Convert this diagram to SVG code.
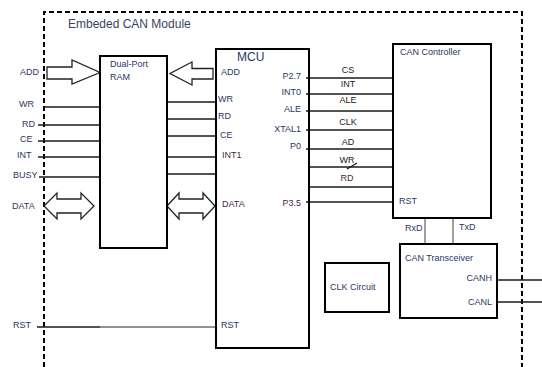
<svg xmlns="http://www.w3.org/2000/svg" width="542" height="367" viewBox="0 0 542 367">
<style>
text{font-family:"Liberation Sans",Arial,sans-serif;font-size:9px;fill:#2b3566}
.m{fill:#4e2444}
.k{fill:#1a1a1a}
.big{font-size:12px}
.box{fill:#fff;stroke:#000;stroke-width:2}
.ln{stroke:#1a1a1a;stroke-width:1.3;fill:none}
.gl{stroke:#6e6e6e;stroke-width:1.3;fill:none}
.arr{fill:#fff;stroke:#222;stroke-width:1.3;stroke-linejoin:miter}
.dash{fill:none;stroke:#000;stroke-width:2;stroke-dasharray:5,3}
.e{text-anchor:end}
.c{text-anchor:middle}
</style>
<rect width="542" height="367" fill="#fff"/>

<g id="module">
<path class="dash" d="M44,367 V12 H522 V367"/>
<text x="68" y="28" class="big" style="fill:#3a3f5c">Embeded CAN Module</text>
</g>

<g id="connectors">
<!-- left external signals into RAM -->
<line class="ln" x1="44" y1="107" x2="100" y2="107"/>
<line class="ln" x1="38" y1="125" x2="100" y2="125"/>
<line class="ln" x1="38" y1="141" x2="100" y2="141"/>
<line class="ln" x1="38" y1="157" x2="100" y2="157"/>
<line class="ln" x1="39" y1="177" x2="100" y2="177"/>
<!-- RAM to MCU -->
<line class="ln" x1="167" y1="102" x2="216" y2="102"/>
<line class="ln" x1="167" y1="119" x2="216" y2="119"/>
<line class="ln" x1="167" y1="136" x2="216" y2="136"/>
<line class="ln" x1="167" y1="157" x2="216" y2="157"/>
<line class="ln" x1="167" y1="174" x2="216" y2="174"/>
<!-- RST -->
<line class="ln" x1="37" y1="327" x2="100" y2="327"/>
<line class="gl" x1="100" y1="327" x2="216" y2="327"/>
<!-- MCU to CAN controller -->
<line class="ln" x1="306" y1="78" x2="393" y2="78"/>
<line class="ln" x1="306" y1="94" x2="393" y2="94"/>
<line class="ln" x1="306" y1="111" x2="393" y2="111"/>
<line class="ln" x1="306" y1="130" x2="393" y2="130"/>
<line class="ln" x1="306" y1="149" x2="393" y2="149"/>
<line class="ln" x1="309" y1="167" x2="393" y2="167"/>
<line class="ln" x1="309" y1="187" x2="393" y2="187"/>
<line class="ln" x1="306" y1="202" x2="393" y2="202"/>
<line class="ln" x1="347" y1="169" x2="357" y2="163"/>
<!-- controller to transceiver -->
<line class="gl" x1="425" y1="218" x2="425" y2="244"/>
<line class="gl" x1="453" y1="218" x2="453" y2="244"/>
<!-- bus -->
<line class="ln" x1="497" y1="280" x2="542" y2="280"/>
<line class="ln" x1="497" y1="302" x2="542" y2="302"/>
<!-- hollow arrows -->
<polygon class="arr" points="47,67 72,67 72,60 100,72.5 72,84 72,79 47,79"/>
<polygon class="arr" points="213,68.5 192,68.5 192,62 170,73.5 192,85 192,79 213,79"/>
<polygon class="arr" points="44,206 57,193 57,199 81,199 81,193 94,206 81,219 81,213 57,213 57,219"/>
<polygon class="arr" points="167,206 179,193 179,199 203,199 203,193 215,206 203,219 203,213 179,213 179,219"/>
<!-- signal labels -->
<text x="20" y="75">ADD</text>
<text x="19" y="107">WR</text>
<text x="22" y="127">RD</text>
<text x="20" y="142">CE</text>
<text x="17" y="158">INT</text>
<text x="13" y="178">BUSY</text>
<text x="12" y="209">DATA</text>
<text x="13" y="328">RST</text>
<text x="348" y="72.5" class="c k">CS</text>
<text x="348" y="87" class="c k">INT</text>
<text x="348" y="102.5" class="c k">ALE</text>
<text x="348" y="125" class="c k">CLK</text>
<text x="348" y="145" class="c k">AD</text>
<text x="347" y="163" class="c k">WR</text>
<text x="347" y="181" class="c m">RD</text>
<text x="405" y="231">RxD</text>
<text x="459" y="230">TxD</text>
</g>

<g id="ram">
<rect class="box" x="100" y="56" width="67" height="192"/>
<text x="110" y="67">Dual-Port</text>
<text x="110" y="80">RAM</text>
</g>

<g id="mcu">
<rect class="box" x="216" y="49" width="93" height="299" style="fill:none"/>
<text x="237" y="61" class="big">MCU</text>
<text x="221" y="75">ADD</text>
<text x="218" y="102">WR</text>
<text x="218" y="119">RD</text>
<text x="220" y="138">CE</text>
<text x="222" y="158" class="m">INT1</text>
<text x="222" y="207" class="m">DATA</text>
<text x="221" y="328">RST</text>
<text x="301" y="79" class="e">P2.7</text>
<text x="301" y="95" class="e">INT0</text>
<text x="301" y="112" class="e">ALE</text>
<text x="301" y="132" class="e">XTAL1</text>
<text x="301" y="149" class="e">P0</text>
<text x="301" y="206" class="e m">P3.5</text>
</g>

<g id="can-controller">
<rect class="box" x="393" y="44" width="98" height="174" style="fill:none"/>
<text x="400" y="55">CAN Controller</text>
<text x="399" y="204">RST</text>
</g>

<g id="can-transceiver">
<rect class="box" x="400" y="244" width="97" height="74"/>
<text x="405" y="261">CAN Transceiver</text>
<text x="492" y="281" class="e">CANH</text>
<text x="492" y="305" class="e">CANL</text>
</g>

<g id="clk-circuit">
<rect class="box" x="325" y="263" width="64" height="49"/>
<text x="330" y="290">CLK Circuit</text>
</g>
</svg>
